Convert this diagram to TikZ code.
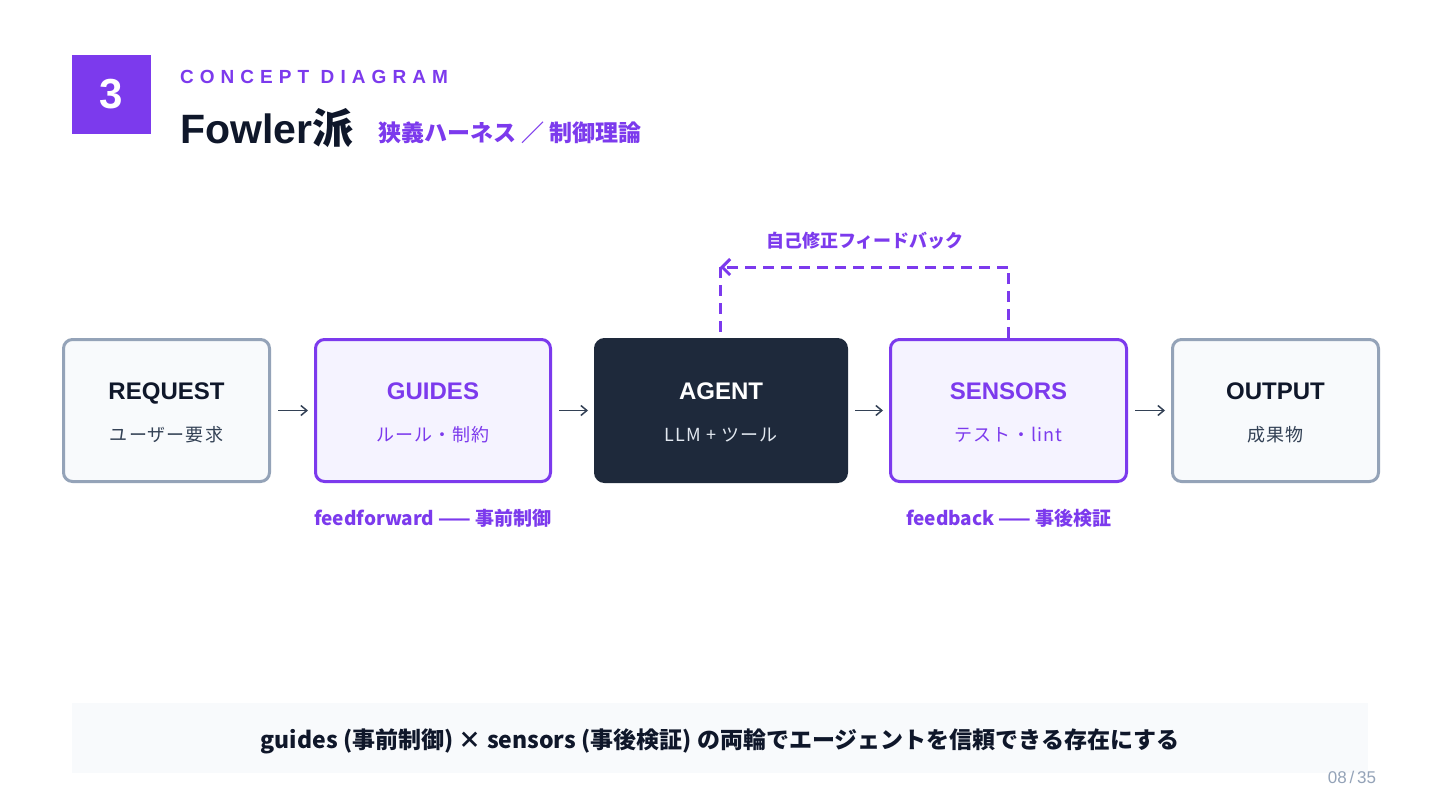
\documentclass[tikz,border=0pt]{standalone}
\usepackage{fontspec}
\setmainfont{Liberation Sans}
\newfontfamily\jp{Noto Sans CJK JP}
\usepackage{tikz}
\usetikzlibrary{arrows.meta, positioning}
\definecolor{harnesspurple}{RGB}{124,58,237}
\definecolor{inkdark}{RGB}{15,23,42}
\definecolor{agentnavy}{RGB}{30,41,59}
\definecolor{slategray}{RGB}{148,163,184}
\definecolor{subgray}{RGB}{51,65,85}
\definecolor{paper}{RGB}{248,250,252}
\definecolor{lavender}{RGB}{245,243,255}
\definecolor{agentsub}{RGB}{226,232,240}

\begin{document}
\begin{tikzpicture}[
    x=1pt, y=-1pt,
    plain/.style={inner sep=0pt, outer sep=0pt},
    stage/.style={rectangle, rounded corners=9pt, line width=3pt, minimum height=142pt},
    outer/.style={stage, draw=slategray, fill=paper},
    control/.style={stage, draw=harnesspurple, fill=lavender},
    core/.style={stage, draw=agentnavy, fill=agentnavy},
    stagetitle/.style={plain, anchor=base, font=\fontsize{24}{28}\selectfont\bfseries},
    stagesub/.style={plain, anchor=base, font=\jp\fontsize{18}{22}\selectfont\addfontfeature{LetterSpace=6}},
    flow/.style={-{Straight Barb[length=6pt, width=10pt]}, line width=1.5pt, draw=subgray, shorten <=7pt, shorten >=6pt},
    fb/.style={harnesspurple, line width=3pt, dash pattern=on 11pt off 7pt},
    tag/.style={plain, text=harnesspurple, font=\jp\fontsize{19}{22}\selectfont\bfseries}
]
    \useasboundingbox[fill=white] (0,0) rectangle (1440,811);

    % Header
    \node[plain, fill=harnesspurple, minimum size=79pt, text=white, font=\fontsize{42}{44}\selectfont\bfseries] (num) at (111.5,94.5) {3};
    \node[plain, anchor=base west, text=harnesspurple, font=\fontsize{19}{20}\selectfont\bfseries\addfontfeature{LetterSpace=32}] (kicker) at (180,83) {CONCEPT DIAGRAM};
    \node[plain, anchor=base west, text=inkdark, font=\fontsize{41}{44}\selectfont\bfseries] (title) at (180,143) {Fowler{\jp 派}};
    \node[plain, anchor=base west, text=harnesspurple, font=\jp\fontsize{23}{26}\selectfont\bfseries] (subtitle) at (378,141) {狭義ハーネス ／ 制御理論};

    % Stages
    \node[outer, minimum width=206pt] (request) at (166.5,410.5) {};
    \node[control, minimum width=235pt] (guides) at (433,410.5) {};
    \node[core, minimum width=251pt] (agent) at (721,410.5) {};
    \node[control, minimum width=236pt] (sensors) at (1008.5,410.5) {};
    \node[outer, minimum width=206pt] (output) at (1275.5,410.5) {};

    \node[stagetitle, text=inkdark] (requestT) at (166.5,399) {REQUEST};
    \node[stagesub, text=subgray] (requestS) at (166.5,441) {ユーザー要求};
    \node[stagetitle, text=harnesspurple] (guidesT) at (433,399) {GUIDES};
    \node[stagesub, text=harnesspurple] (guidesS) at (433,441) {ルール・制約};
    \node[stagetitle, text=white] (agentT) at (721,399) {AGENT};
    \node[stagesub, text=agentsub] (agentS) at (721,441) {LLM + ツール};
    \node[stagetitle, text=harnesspurple] (sensorsT) at (1008.5,399) {SENSORS};
    \node[stagesub, text=harnesspurple] (sensorsS) at (1008.5,441) {テスト・lint};
    \node[stagetitle, text=inkdark] (outputT) at (1275.5,399) {OUTPUT};
    \node[stagesub, text=subgray] (outputS) at (1275.5,441) {成果物};

    \draw[flow] (request) -- (guides);
    \draw[flow] (guides) -- (agent);
    \draw[flow] (agent) -- (sensors);
    \draw[flow] (sensors) -- (output);

    % Self-correction loop
    \coordinate (loop) at (720,267);
    \draw[fb, -{Straight Barb[length=8pt, width=16pt]}] (sensors.north) |- (loop);
    \draw[fb] (loop) -- (agent.north -| loop);
    \node[tag, font=\jp\fontsize{18}{20}\selectfont\bfseries] (loopT) at (865,241) {自己修正フィードバック};

    % Labels under the boxes
    \node[tag] (ffT) at (433,518) {feedforward —— 事前制御};
    \node[tag] (fbT) at (1009,518) {feedback —— 事後検証};

    % Summary bar
    \node[plain, fill=paper, minimum width=1296pt, minimum height=70pt] (bar) at (720,738) {};
    \node[plain, text=inkdark, font=\jp\fontsize{23}{26}\selectfont\bfseries] (summary) at (720,741) {guides (事前制御) × sensors (事後検証) の両輪でエージェントを信頼できる存在にする};
    \node[plain, anchor=base east, text=slategray, font=\fontsize{17}{18}\selectfont] (page) at (1376,783) {08\,/\,35};
\end{tikzpicture}
\end{document}
